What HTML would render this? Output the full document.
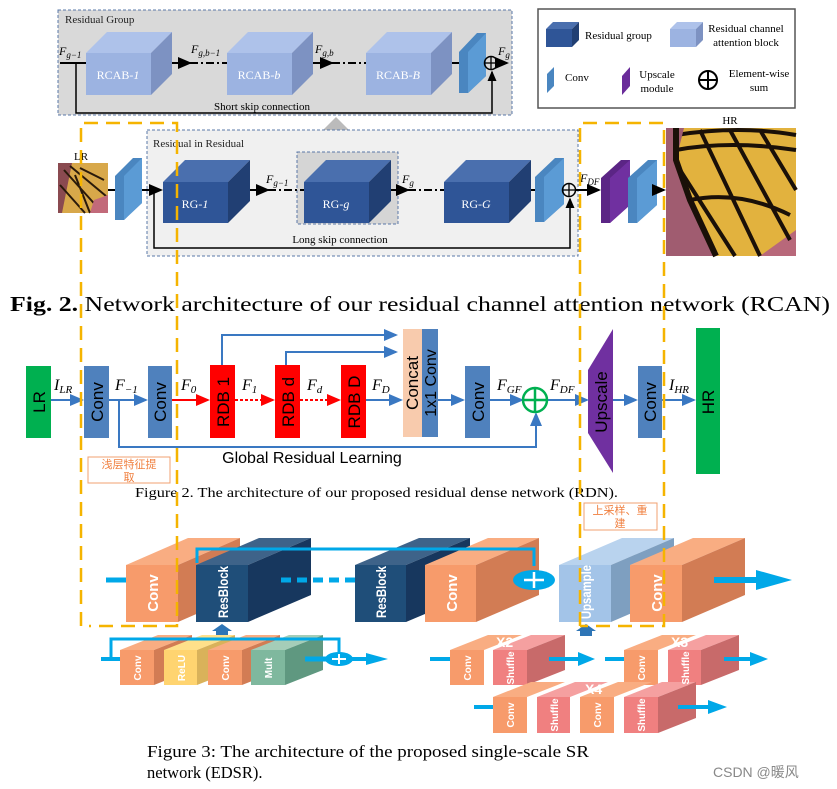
<!DOCTYPE html>
<html><head><meta charset="utf-8"><style>
html,body{margin:0;padding:0;background:#fff}
svg{display:block}
.s{font-family:"Liberation Serif",serif}
.a{font-family:"Liberation Sans",sans-serif}
</style></head><body>
<svg width="837" height="789" viewBox="0 0 837 789" xmlns="http://www.w3.org/2000/svg">
<defs>
<marker id="ab" markerWidth="8" markerHeight="8" refX="6" refY="3" orient="auto"><path d="M0,0 L7,3 L0,6 z" fill="#000"/></marker>
<marker id="abl" markerWidth="8" markerHeight="8" refX="6" refY="3" orient="auto"><path d="M0,0 L7,3 L0,6 z" fill="#3a78c2"/></marker>
<marker id="ar" markerWidth="8" markerHeight="8" refX="6" refY="3" orient="auto"><path d="M0,0 L7,3 L0,6 z" fill="#ff0000"/></marker>
</defs>

<rect x="58" y="10" width="454" height="105" fill="#d9d9d9" stroke="#5a78a8" stroke-dasharray="3,2"/>
<text x="65" y="23" class="s" font-size="11" fill="#222">Residual Group</text>
<g>
<rect x="86" y="53" width="65" height="42" fill="#9cb3e1"/><polygon points="86,53 107,32 172,32 151,53" fill="#aec2ea"/><polygon points="151,53 172,32 172,74 151,95" fill="#7d92c2"/>
<rect x="227" y="53" width="65" height="42" fill="#9cb3e1"/><polygon points="227,53 248,32 313,32 292,53" fill="#aec2ea"/><polygon points="292,53 313,32 313,74 292,95" fill="#7d92c2"/>
<rect x="366" y="53" width="65" height="42" fill="#9cb3e1"/><polygon points="366,53 387,32 452,32 431,53" fill="#aec2ea"/><polygon points="431,53 452,32 452,74 431,95" fill="#7d92c2"/>
</g>
<text x="118" y="79" class="s" font-size="12" fill="#fff" text-anchor="middle">RCAB-<tspan font-style="italic">1</tspan></text>
<text x="259" y="79" class="s" font-size="12" fill="#fff" text-anchor="middle">RCAB-<tspan font-style="italic">b</tspan></text>
<text x="398" y="79" class="s" font-size="12" fill="#fff" text-anchor="middle">RCAB-<tspan font-style="italic">B</tspan></text>
<polygon points="459,52 477,33 486,33 486,76 468,93 459,93" fill="#4a86c0"/><polygon points="468,52 486,33 486,76 468,93" fill="#5b9bd5"/>
<g stroke="#000" stroke-width="2" fill="none">
<line x1="60" y1="63" x2="86" y2="63"/>
<line x1="172" y1="63" x2="190" y2="63" marker-end="url(#ab)"/><line x1="190" y1="63" x2="227" y2="63" stroke-dasharray="8,3,2,3"/>
<line x1="313" y1="63" x2="332" y2="63" marker-end="url(#ab)"/><line x1="332" y1="63" x2="366" y2="63" stroke-dasharray="8,3,2,3"/>
<line x1="452" y1="63" x2="459" y2="63"/>
<line x1="498" y1="63" x2="507" y2="63" marker-end="url(#ab)"/>
<polyline points="76,63 76,113 492,113 492,72" marker-end="url(#ab)" stroke-width="1.5"/>
<circle cx="491" cy="63" r="6.5" stroke-width="1.5"/><line x1="484" y1="63" x2="498" y2="63" stroke-width="1.3"/><line x1="491" y1="56" x2="491" y2="70" stroke-width="1.3"/>
</g>
<text x="59" y="55" class="s" font-size="12" font-style="italic">F<tspan font-size="9" dy="3">g−1</tspan></text>
<text x="191" y="53" class="s" font-size="12" font-style="italic">F<tspan font-size="9" dy="3">g,b−1</tspan></text>
<text x="315" y="53" class="s" font-size="12" font-style="italic">F<tspan font-size="9" dy="3">g,b</tspan></text>
<text x="498" y="55" class="s" font-size="12" font-style="italic">F<tspan font-size="9" dy="3">g</tspan></text>
<text x="262" y="110" class="s" font-size="11" text-anchor="middle">Short skip connection</text>

<rect x="538" y="9" width="257" height="99" fill="#fff" stroke="#555" stroke-width="1.5"/>
<rect x="546" y="29" width="26" height="18" fill="#2f5597"/><polygon points="546,29 553,22 579,22 572,29" fill="#4a6fae"/><polygon points="572,29 579,22 579,40 572,47" fill="#213f73"/>
<text x="585" y="39" class="s" font-size="11">Residual group</text>
<rect x="670" y="29" width="26" height="18" fill="#9cb3e1"/><polygon points="670,29 677,22 703,22 696,29" fill="#aec2ea"/><polygon points="696,29 703,22 703,40 696,47" fill="#7d92c2"/>
<text x="746" y="32" class="s" font-size="11" text-anchor="middle">Residual channel</text>
<text x="746" y="46" class="s" font-size="11" text-anchor="middle">attention block</text>
<polygon points="547,74 554,67 554,86 547,93" fill="#4a86c0"/>
<text x="565" y="81" class="s" font-size="11">Conv</text>
<polygon points="622,76 630,67 630,86 622,95" fill="#6a2c9a"/>
<text x="657" y="78" class="s" font-size="11" text-anchor="middle">Upscale</text>
<text x="657" y="92" class="s" font-size="11" text-anchor="middle">module</text>
<circle cx="708" cy="80" r="9" fill="none" stroke="#000" stroke-width="2"/><line x1="699" y1="80" x2="717" y2="80" stroke="#000" stroke-width="2"/><line x1="708" y1="71" x2="708" y2="89" stroke="#000" stroke-width="2"/>
<text x="759" y="77" class="s" font-size="11" text-anchor="middle">Element-wise</text>
<text x="759" y="91" class="s" font-size="11" text-anchor="middle">sum</text>

<polygon points="327,150 327,131 322,131 336,117 350,131 345,131 345,150" fill="#bbb"/>

<rect x="147" y="130" width="431" height="126" fill="#f0f0f0" stroke="#5a78a8" stroke-dasharray="3,2"/>
<text x="153" y="147" class="s" font-size="11" fill="#222">Residual in Residual</text>
<rect x="297" y="152" width="101" height="72" fill="#d5d5d5" stroke="#5a78a8" stroke-dasharray="3,2"/>
<text x="81" y="160" class="s" font-size="11" text-anchor="middle">LR</text>
<rect x="58" y="163" width="50" height="50" fill="#d8a84a"/>
<polygon points="58,163 72,163 62,213 58,213" fill="#8a4a50"/>
<path d="M64,170 L100,210 M70,166 L106,196 M60,185 L85,213 M75,175 L90,213 M80,168 L104,180" stroke="#2a1a0a" stroke-width="2" fill="none"/>
<polygon points="94,200 108,195 108,213 90,213" fill="#c26a7a"/>
<polygon points="115,176 133,158 142,158 142,203 124,220 115,220" fill="#4a86c0"/><polygon points="124,176 142,158 142,203 124,220" fill="#5b9bd5"/>
<rect x="163" y="182" width="65" height="41" fill="#2f5597"/><polygon points="163,182 185,160 250,160 228,182" fill="#4a6fae"/><polygon points="228,182 250,160 250,201 228,223" fill="#213f73"/>
<rect x="304" y="182" width="65" height="41" fill="#2f5597"/><polygon points="304,182 326,160 391,160 369,182" fill="#4a6fae"/><polygon points="369,182 391,160 391,201 369,223" fill="#213f73"/>
<rect x="444" y="182" width="65" height="41" fill="#2f5597"/><polygon points="444,182 466,160 531,160 509,182" fill="#4a6fae"/><polygon points="509,182 531,160 531,201 509,223" fill="#213f73"/>
<text x="195" y="208" class="s" font-size="12" fill="#fff" text-anchor="middle">RG-<tspan font-style="italic">1</tspan></text>
<text x="336" y="208" class="s" font-size="12" fill="#fff" text-anchor="middle">RG-<tspan font-style="italic">g</tspan></text>
<text x="476" y="208" class="s" font-size="12" fill="#fff" text-anchor="middle">RG-<tspan font-style="italic">G</tspan></text>
<polygon points="535,177 555,158 564,158 564,204 544,222 535,222" fill="#4a86c0"/><polygon points="544,177 564,158 564,204 544,222" fill="#5b9bd5"/>
<polygon points="601,178 621,160 630,160 630,205 610,223 601,223" fill="#5b2585"/><polygon points="610,178 630,160 630,205 610,223" fill="#7030a0"/>
<polygon points="628,178 648,160 657,160 657,205 637,223 628,223" fill="#4a86c0"/><polygon points="637,178 657,160 657,205 637,223" fill="#5b9bd5"/>
<g stroke="#000" stroke-width="2" fill="none">
<line x1="108" y1="190" x2="115" y2="190"/>
<line x1="142" y1="190" x2="161" y2="190" marker-end="url(#ab)"/>
<line x1="250" y1="190" x2="268" y2="190" marker-end="url(#ab)"/><line x1="268" y1="190" x2="304" y2="190" stroke-dasharray="8,3,2,3"/>
<line x1="391" y1="190" x2="408" y2="190" marker-end="url(#ab)"/><line x1="408" y1="190" x2="444" y2="190" stroke-dasharray="8,3,2,3"/>
<line x1="531" y1="190" x2="535" y2="190"/>
<line x1="576" y1="190" x2="599" y2="190" marker-end="url(#ab)"/>
<line x1="657" y1="190" x2="664" y2="190" marker-end="url(#ab)"/>
<polyline points="154,190 154,248 570,248 570,199" marker-end="url(#ab)" stroke-width="1.5"/>
<circle cx="569" cy="190" r="6.5" stroke-width="1.5"/><line x1="562" y1="190" x2="576" y2="190" stroke-width="1.3"/><line x1="569" y1="183" x2="569" y2="197" stroke-width="1.3"/>
</g>
<text x="266" y="183" class="s" font-size="12" font-style="italic">F<tspan font-size="9" dy="3">g−1</tspan></text>
<text x="402" y="183" class="s" font-size="12" font-style="italic">F<tspan font-size="9" dy="3">g</tspan></text>
<text x="580" y="182" class="s" font-size="12" font-style="italic">F<tspan font-size="9" dy="3">DF</tspan></text>
<text x="340" y="243" class="s" font-size="11" text-anchor="middle">Long skip connection</text>
<text x="730" y="124" class="s" font-size="11" text-anchor="middle">HR</text>
<rect x="666" y="128" width="130" height="128" fill="#b8687a"/>
<polygon points="680,128 796,128 796,230 760,256 716,256 690,200 676,160" fill="#e2b23e"/>
<path d="M676,150 Q730,140 796,150 M690,200 Q740,190 790,215 M700,130 L760,256 M730,130 L790,240 M760,130 L796,190 M680,170 L735,256 M676,135 Q740,125 796,135" stroke="#1a1008" stroke-width="4" fill="none"/>
<polygon points="666,128 684,128 676,160 690,200 716,256 666,256" fill="#a05c70"/>
<path d="M676,128 L676,160 L690,200 L716,256" stroke="#1a1008" stroke-width="6" fill="none"/>

<text x="10" y="311" class="s" font-size="21" textLength="820" lengthAdjust="spacingAndGlyphs"><tspan font-weight="bold">Fig. 2.</tspan> Network architecture of our residual channel attention network (RCAN)</text>

<rect x="26" y="366" width="25" height="72" fill="#00b050"/>
<rect x="84" y="366" width="25" height="72" fill="#4f81bd"/>
<rect x="148" y="366" width="24" height="72" fill="#4f81bd"/>
<rect x="210" y="365" width="25" height="73" fill="#ff0000"/>
<rect x="275" y="365" width="25" height="73" fill="#ff0000"/>
<rect x="341" y="365" width="25" height="73" fill="#ff0000"/>
<rect x="403" y="329" width="19" height="108" fill="#f8cbad"/>
<rect x="422" y="329" width="16" height="108" fill="#4f81bd"/>
<rect x="465" y="366" width="25" height="72" fill="#4f81bd"/>
<polygon points="588,370 613,329 613,473 588,433" fill="#7030a0"/>
<rect x="638" y="366" width="24" height="72" fill="#4f81bd"/>
<rect x="696" y="328" width="24" height="146" fill="#00b050"/>
<g class="a" font-size="17" fill="#000" text-anchor="middle">
<text transform="translate(45,402) rotate(-90)">LR</text>
<text transform="translate(103,402) rotate(-90)">Conv</text>
<text transform="translate(166,402) rotate(-90)">Conv</text>
<text transform="translate(229,402) rotate(-90)">RDB 1</text>
<text transform="translate(294,402) rotate(-90)">RDB d</text>
<text transform="translate(360,402) rotate(-90)">RDB D</text>
<text transform="translate(418,383) rotate(-90)">Concat</text>
<text transform="translate(436,383) rotate(-90)" font-size="16">1x1 Conv</text>
<text transform="translate(484,402) rotate(-90)">Conv</text>
<text transform="translate(607,402) rotate(-90)">Upscale</text>
<text transform="translate(656,402) rotate(-90)">Conv</text>
<text transform="translate(714,402) rotate(-90)">HR</text>
</g>
<g stroke="#3a78c2" stroke-width="2" fill="none">
<line x1="51" y1="400" x2="82" y2="400" marker-end="url(#abl)"/>
<line x1="109" y1="400" x2="146" y2="400" marker-end="url(#abl)"/>
<line x1="366" y1="400" x2="401" y2="400" marker-end="url(#abl)"/>
<line x1="438" y1="400" x2="463" y2="400" marker-end="url(#abl)"/>
<line x1="490" y1="400" x2="522" y2="400" marker-end="url(#abl)"/>
<line x1="548" y1="400" x2="587" y2="400" marker-end="url(#abl)"/>
<line x1="613" y1="400" x2="636" y2="400" marker-end="url(#abl)"/>
<line x1="662" y1="400" x2="694" y2="400" marker-end="url(#abl)"/>
<polyline points="222,365 222,335 396,335" marker-end="url(#abl)"/>
<polyline points="286,365 286,352 396,352" marker-end="url(#abl)"/>
<polyline points="119,400 119,447 536,447 536,414" marker-end="url(#abl)"/>
</g>
<line x1="172" y1="400" x2="208" y2="400" stroke="#ff0000" stroke-width="2" marker-end="url(#ar)"/>
<line x1="235" y1="400" x2="273" y2="400" stroke="#ff0000" stroke-width="2" stroke-dasharray="3,2" marker-end="url(#ar)"/>
<line x1="300" y1="400" x2="339" y2="400" stroke="#ff0000" stroke-width="2" stroke-dasharray="3,2" marker-end="url(#ar)"/>
<circle cx="535" cy="400" r="12" fill="none" stroke="#00b050" stroke-width="2.5"/>
<line x1="523" y1="400" x2="547" y2="400" stroke="#00b050" stroke-width="2.5"/><line x1="535" y1="388" x2="535" y2="412" stroke="#00b050" stroke-width="2.5"/>
<g class="s" font-size="16" font-style="italic">
<text x="54" y="390">I<tspan font-size="11" dy="3">LR</tspan></text>
<text x="115" y="390">F<tspan font-size="11" dy="3">−1</tspan></text>
<text x="181" y="390">F<tspan font-size="11" dy="3">0</tspan></text>
<text x="242" y="390">F<tspan font-size="11" dy="3">1</tspan></text>
<text x="307" y="390">F<tspan font-size="11" dy="3">d</tspan></text>
<text x="372" y="390">F<tspan font-size="11" dy="3">D</tspan></text>
<text x="497" y="390">F<tspan font-size="11" dy="3">GF</tspan></text>
<text x="550" y="390">F<tspan font-size="11" dy="3">DF</tspan></text>
<text x="669" y="390">I<tspan font-size="11" dy="3">HR</tspan></text>
</g>
<text x="312" y="463" class="a" font-size="16" text-anchor="middle">Global Residual Learning</text>
<rect x="88" y="457" width="82" height="26" fill="#fff" stroke="#f0a070"/>
<text x="129" y="468" font-family="'Liberation Sans','Noto Sans CJK SC',sans-serif" font-size="11" fill="#f08040" text-anchor="middle">浅层特征提</text>
<text x="129" y="481" font-family="'Liberation Sans','Noto Sans CJK SC',sans-serif" font-size="11" fill="#f08040" text-anchor="middle">取</text>
<text x="135" y="497" class="s" font-size="13.5" textLength="483" lengthAdjust="spacingAndGlyphs">Figure 2. The architecture of our proposed residual dense network (RDN).</text>
<rect x="584" y="503" width="73" height="27" fill="#fff" stroke="#f0a070"/>
<text x="620" y="514" font-family="'Liberation Sans','Noto Sans CJK SC',sans-serif" font-size="11" fill="#f08040" text-anchor="middle">上采样、重</text>
<text x="620" y="527" font-family="'Liberation Sans','Noto Sans CJK SC',sans-serif" font-size="11" fill="#f08040" text-anchor="middle">建</text>

<g>
<polygon points="126,565 178,565 240,538 188,538" fill="#f9ad82"/><polygon points="178,565 240,538 240,595 178,622" fill="#d27c54"/><rect x="126" y="565" width="52" height="57" fill="#f79b6b"/>
<polygon points="196,565 248,565 311,538 259,538" fill="#3e6389"/><polygon points="248,565 311,538 311,595 248,622" fill="#17375e"/><rect x="196" y="565" width="52" height="57" fill="#1f4e79"/>
<polygon points="355,565 406,565 470,538 419,538" fill="#3e6389"/><polygon points="406,565 470,538 470,595 406,622" fill="#17375e"/><rect x="355" y="565" width="51" height="57" fill="#1f4e79"/>
<polygon points="425,565 476,565 539,538 488,538" fill="#f9ad82"/><polygon points="476,565 539,538 539,595 476,622" fill="#d27c54"/><rect x="425" y="565" width="51" height="57" fill="#f79b6b"/>
<polygon points="559,565 611,565 674,538 622,538" fill="#b9d3ee"/><polygon points="611,565 674,538 674,595 611,622" fill="#7e9fc0"/><rect x="559" y="565" width="52" height="57" fill="#a3c4e8"/>
<polygon points="630,565 682,565 745,538 693,538" fill="#f9ad82"/><polygon points="682,565 745,538 745,595 682,622" fill="#d27c54"/><rect x="630" y="565" width="52" height="57" fill="#f79b6b"/>
</g>
<g class="a" font-weight="bold" fill="#fff" text-anchor="middle">
<text transform="translate(158,593) rotate(-90)" font-size="15">Conv</text>
<text transform="translate(228,592) rotate(-90)" font-size="14" textLength="52" lengthAdjust="spacingAndGlyphs">ResBlock</text>
<text transform="translate(386,592) rotate(-90)" font-size="14" textLength="52" lengthAdjust="spacingAndGlyphs">ResBlock</text>
<text transform="translate(457,593) rotate(-90)" font-size="15">Conv</text>
<text transform="translate(591,592) rotate(-90)" font-size="14" textLength="54" lengthAdjust="spacingAndGlyphs">Upsample</text>
<text transform="translate(662,593) rotate(-90)" font-size="15">Conv</text>
</g>
<g stroke="#00a8e8" fill="none">
<line x1="106" y1="580" x2="126" y2="580" stroke-width="5"/>
<line x1="281" y1="580" x2="355" y2="580" stroke-width="5" stroke-dasharray="10,6"/>
<polyline points="197,563 197,549 534,549 534,566" stroke-width="3"/>
<line x1="714" y1="580" x2="760" y2="580" stroke-width="6"/>
</g>
<polygon points="756,570 792,580 756,590" fill="#00a8e8"/>
<ellipse cx="534" cy="580" rx="21" ry="10" fill="#00a8e8"/>
<line x1="524" y1="580" x2="544" y2="580" stroke="#fff" stroke-width="2.5"/><line x1="534" y1="572" x2="534" y2="588" stroke="#fff" stroke-width="2.5"/>
<polygon points="216,636 216,631 212,631 222,624 232,631 228,631 228,636" fill="#2e75b6"/>
<polygon points="580,636 580,631 576,631 586,624 596,631 592,631 592,636" fill="#2e75b6"/>

<g>
<polygon points="120,650 154,650 192,635 158,635" fill="#f9ad82"/><polygon points="154,650 192,635 192,670 154,685" fill="#d27c54"/><rect x="120" y="650" width="34" height="35" fill="#f79b6b"/>
<polygon points="164,650 197,650 235,635 202,635" fill="#ffe08a"/><polygon points="197,650 235,635 235,670 197,685" fill="#d9b25a"/><rect x="164" y="650" width="33" height="35" fill="#ffd470"/>
<polygon points="208,650 242,650 280,635 246,635" fill="#f9ad82"/><polygon points="242,650 280,635 280,670 242,685" fill="#d27c54"/><rect x="208" y="650" width="34" height="35" fill="#f79b6b"/>
<polygon points="251,650 285,650 323,635 289,635" fill="#a5cdb8"/><polygon points="285,650 323,635 323,670 285,685" fill="#5f9880"/><rect x="251" y="650" width="34" height="35" fill="#7fb89e"/>
</g>
<g class="a" font-size="10" font-weight="bold" fill="#fff" text-anchor="middle">
<text transform="translate(141,668) rotate(-90)">Conv</text>
<text transform="translate(185,668) rotate(-90)">ReLU</text>
<text transform="translate(229,668) rotate(-90)">Conv</text>
<text transform="translate(272,668) rotate(-90)">Mult</text>
</g>
<g stroke="#00a8e8" fill="none" stroke-width="3">
<line x1="101" y1="659" x2="120" y2="659" stroke-width="4"/>
<polyline points="111,659 111,639 339,639 339,652"/>
<line x1="305" y1="659" x2="330" y2="659" stroke-width="5"/>
<line x1="348" y1="659" x2="370" y2="659" stroke-width="4"/>
</g>
<ellipse cx="339" cy="659" rx="14" ry="7" fill="#00a8e8"/>
<line x1="332" y1="659" x2="346" y2="659" stroke="#fff" stroke-width="2"/><line x1="339" y1="654" x2="339" y2="664" stroke="#fff" stroke-width="2"/>
<polygon points="366,653 388,659 366,665" fill="#00a8e8"/>

<polygon points="450,650 484,650 522,635 488,635" fill="#f9ad82"/><rect x="450" y="650" width="34" height="35" fill="#f79b6b"/>
<polygon points="493,650 527,650 565,635 531,635" fill="#f5a0a0"/><polygon points="527,650 565,635 565,670 527,685" fill="#c86a6a"/><rect x="493" y="650" width="34" height="35" fill="#f08080"/>
<polygon points="624,650 658,650 696,635 662,635" fill="#f9ad82"/><rect x="624" y="650" width="34" height="35" fill="#f79b6b"/>
<polygon points="668,650 701,650 739,635 706,635" fill="#f5a0a0"/><polygon points="701,650 739,635 739,670 701,685" fill="#c86a6a"/><rect x="668" y="650" width="33" height="35" fill="#f08080"/>
<polygon points="493,697 527,697 565,682 531,682" fill="#f9ad82"/><rect x="493" y="697" width="34" height="36" fill="#f79b6b"/>
<polygon points="537,697 570,697 608,682 575,682" fill="#f5a0a0"/><rect x="537" y="697" width="33" height="36" fill="#f08080"/>
<polygon points="580,697 614,697 652,682 618,682" fill="#f9ad82"/><rect x="580" y="697" width="34" height="36" fill="#f79b6b"/>
<polygon points="624,697 658,697 696,682 662,682" fill="#f5a0a0"/><polygon points="658,697 696,682 696,718 658,733" fill="#c86a6a"/><rect x="624" y="697" width="34" height="36" fill="#f08080"/>
<g class="a" font-size="10" font-weight="bold" fill="#fff" text-anchor="middle">
<text transform="translate(471,668) rotate(-90)">Conv</text>
<text transform="translate(514,668) rotate(-90)" textLength="33" lengthAdjust="spacingAndGlyphs">Shuffle</text>
<text transform="translate(645,668) rotate(-90)">Conv</text>
<text transform="translate(689,668) rotate(-90)" textLength="33" lengthAdjust="spacingAndGlyphs">Shuffle</text>
<text transform="translate(514,715) rotate(-90)">Conv</text>
<text transform="translate(558,715) rotate(-90)" textLength="33" lengthAdjust="spacingAndGlyphs">Shuffle</text>
<text transform="translate(601,715) rotate(-90)">Conv</text>
<text transform="translate(645,715) rotate(-90)" textLength="33" lengthAdjust="spacingAndGlyphs">Shuffle</text>
</g>
<g class="a" font-size="14" font-weight="bold" fill="#fff">
<text x="496" y="647">X2</text>
<text x="671" y="647">X3</text>
<text x="585" y="694">X4</text>
</g>
<g stroke="#00a8e8" stroke-width="4">
<line x1="430" y1="659" x2="450" y2="659"/>
<line x1="549" y1="659" x2="580" y2="659"/>
<line x1="605" y1="659" x2="624" y2="659"/>
<line x1="724" y1="659" x2="752" y2="659"/>
<line x1="474" y1="707" x2="493" y2="707"/>
<line x1="678" y1="707" x2="710" y2="707"/>
</g>
<polygon points="578,652 595,659 578,666" fill="#00a8e8"/>
<polygon points="750,652 768,659 750,666" fill="#00a8e8"/>
<polygon points="708,700 727,707 708,714" fill="#00a8e8"/>

<g stroke="#f5b400" stroke-width="2.5" fill="none" stroke-dasharray="14,8">
<polyline points="81,626 81,123 177,123 177,626 89,626"/>
<polyline points="580,626 580,123 664,123 664,626 580,626"/>
</g>

<text x="147" y="757" class="s" font-size="16.5" textLength="442" lengthAdjust="spacingAndGlyphs">Figure 3: The architecture of the proposed single-scale SR</text>
<text x="147" y="778" class="s" font-size="16.5">network (EDSR).</text>
<text x="713" y="777" font-family="'Liberation Sans','Noto Sans CJK SC',sans-serif" font-size="14" fill="#888">CSDN @暖风</text>
</svg>
</body></html>
